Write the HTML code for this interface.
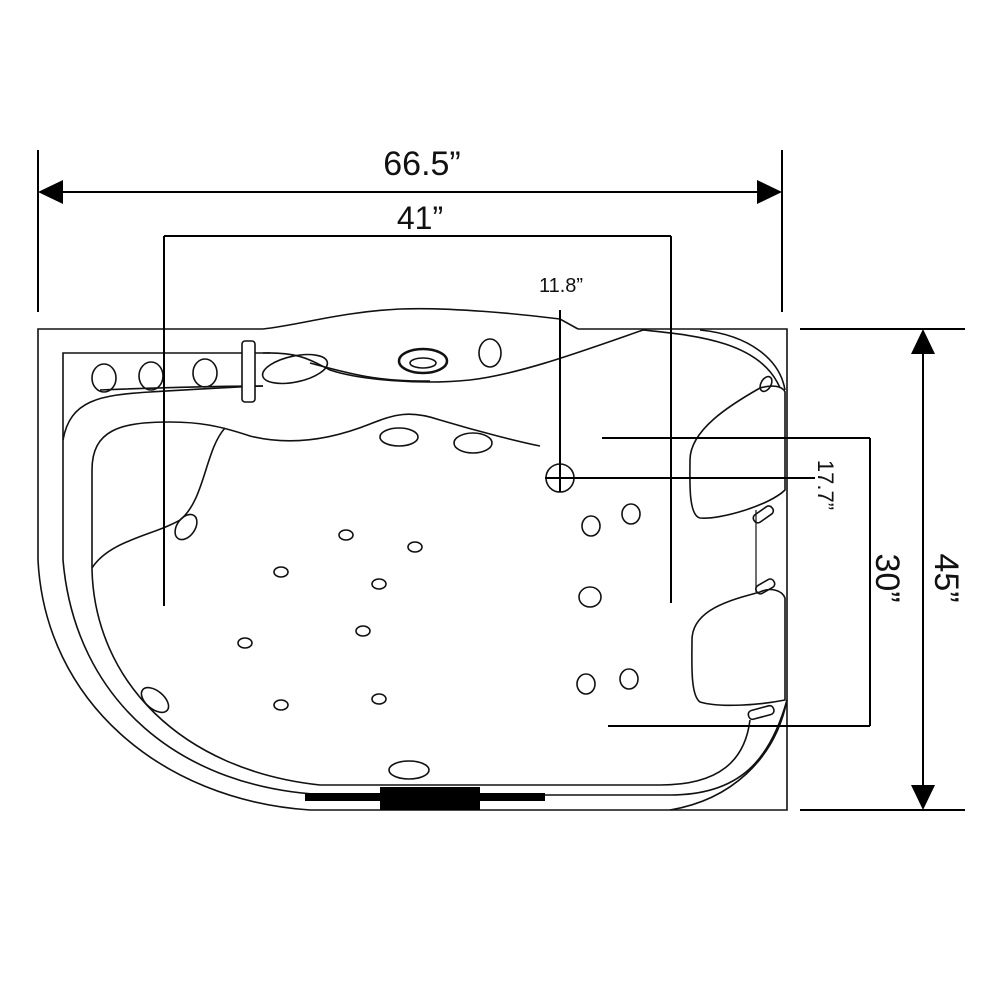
<!DOCTYPE html>
<html><head><meta charset="utf-8"><style>
html,body{margin:0;padding:0;background:#fff;}
svg{display:block;}
text{font-family:"Liberation Sans",sans-serif;fill:#111;}
</style></head><body>
<svg width="1000" height="1000" viewBox="0 0 1000 1000" xmlns="http://www.w3.org/2000/svg">
<rect width="1000" height="1000" fill="#fff"/>
<g fill="none" stroke="#111" stroke-width="1.6">
<!-- outer tub outline -->
<path d="M263,329 L38,329 L38,560 C45,700 160,800 310,810 L787,810 L787,329 L578,329"/>
<path d="M263,329 C300,325 340,312 400,309 C450,307 520,314 560,319 L578,329"/>
<!-- console -->
<path d="M63,420 L63,353 L270,353"/>
<path d="M263,353 C300,352 310,360 330,370 C360,380 420,385 470,380 C520,374 580,352 643,330"/>
<path d="M100,390 C150,388 220,386 263,386"/>
<path d="M310,363 C350,374 380,382 430,381"/>
<!-- rim -->
<path d="M63,440 C70,400 100,395 150,392 C200,389 230,387 263,386"/>
<path d="M63,420 L63,560 C75,700 180,790 330,795 L670,795 C740,795 770,760 787,700"/>
<path d="M670,810 C730,800 775,760 787,700"/>
<path d="M643,330 C690,335 760,340 780,388"/>
<path d="M700,330 C750,335 780,360 785,390"/>
<!-- basin -->
<path d="M92,570 L92,470 C92,430 120,422 170,422 C200,422 220,426 250,436 C290,446 330,440 370,424 C395,414 410,410 440,420 C480,432 520,442 540,446"/>
<path d="M92,570 C95,680 180,770 320,785 L660,785 C720,785 745,760 750,720"/>
<path d="M225,428 C205,450 205,500 180,520 C155,535 110,540 92,568"/>
<!-- headrests -->
<path d="M760,388 C770,385 782,385 785,392 L785,490 C770,505 720,520 700,518 C688,515 690,480 690,460 C690,430 730,405 760,388 Z"/>
<path d="M760,592 C770,587 782,590 785,598 L785,700 C760,705 720,708 700,702 C690,695 692,660 692,640 C692,610 730,600 760,592 Z"/>
<path d="M756,510 L756,592" stroke-width="1.2"/>
<rect x="752" y="510" width="22" height="9" rx="4" transform="rotate(-35 763 514)"/>
<rect x="755" y="582" width="20" height="9" rx="4" transform="rotate(-30 765 586)"/>
<rect x="748" y="708" width="26" height="9" rx="4" transform="rotate(-15 761 712)"/>
<ellipse cx="766" cy="384" rx="5" ry="8" transform="rotate(30 766 384)"/>
<!-- console details -->
<rect x="242" y="341" width="13" height="61" rx="3" fill="#fff"/>
<ellipse cx="295" cy="369" rx="33" ry="13" transform="rotate(-12 295 369)"/>
<ellipse cx="423" cy="361" rx="24" ry="12" stroke-width="2.5"/>
<ellipse cx="423" cy="363" rx="13" ry="5"/>
<ellipse cx="490" cy="353" rx="11" ry="14"/>
<ellipse cx="104" cy="378" rx="12" ry="14"/>
<ellipse cx="151" cy="376" rx="12" ry="14"/>
<ellipse cx="205" cy="373" rx="12" ry="14"/>
<!-- jets -->
<ellipse cx="399" cy="437" rx="19" ry="9"/>
<ellipse cx="473" cy="443" rx="19" ry="10"/>
<ellipse cx="186" cy="527" rx="9" ry="14" transform="rotate(35 186 527)"/>
<ellipse cx="155" cy="700" rx="9" ry="16" transform="rotate(-50 155 700)"/>
<ellipse cx="409" cy="770" rx="20" ry="9"/>
<ellipse cx="346" cy="535" rx="7" ry="5"/>
<ellipse cx="415" cy="547" rx="7" ry="5"/>
<ellipse cx="281" cy="572" rx="7" ry="5"/>
<ellipse cx="379" cy="584" rx="7" ry="5"/>
<ellipse cx="363" cy="631" rx="7" ry="5"/>
<ellipse cx="245" cy="643" rx="7" ry="5"/>
<ellipse cx="281" cy="705" rx="7" ry="5"/>
<ellipse cx="379" cy="699" rx="7" ry="5"/>
<ellipse cx="591" cy="526" rx="9" ry="10"/>
<ellipse cx="631" cy="514" rx="9" ry="10"/>
<ellipse cx="590" cy="597" rx="11" ry="10"/>
<ellipse cx="586" cy="684" rx="9" ry="10"/>
<ellipse cx="629" cy="679" rx="9" ry="10"/>
<circle cx="560" cy="478" r="14"/>
</g>
<!-- drain bar -->
<rect x="305" y="793" width="240" height="8" fill="#000"/>
<rect x="380" y="787" width="100" height="23" fill="#000"/>
<!-- dimension lines -->
<g stroke="#000" stroke-width="2" fill="none">
<line x1="38" y1="150" x2="38" y2="312"/>
<line x1="782" y1="150" x2="782" y2="312"/>
<line x1="60" y1="192" x2="758" y2="192"/>
<line x1="164" y1="236" x2="671" y2="236"/>
<line x1="164" y1="236" x2="164" y2="606"/>
<line x1="671" y1="236" x2="671" y2="603"/>
<line x1="560" y1="310" x2="560" y2="492"/>
<line x1="545" y1="478" x2="815" y2="478"/>
<line x1="602" y1="438" x2="870" y2="438"/>
<line x1="870" y1="438" x2="870" y2="726"/>
<line x1="608" y1="726" x2="870" y2="726"/>
<line x1="800" y1="329" x2="965" y2="329"/>
<line x1="800" y1="810" x2="965" y2="810"/>
<line x1="923" y1="350" x2="923" y2="790"/>
</g>
<polygon points="38,192 63,180 63,204" fill="#000"/>
<polygon points="782,192 757,180 757,204" fill="#000"/>
<polygon points="923,329 911,354 935,354" fill="#000"/>
<polygon points="923,810 911,785 935,785" fill="#000"/>
<text x="422" y="175" font-size="34" text-anchor="middle">66.5”</text>
<text x="420" y="229" font-size="32" text-anchor="middle">41”</text>
<text x="561" y="292" font-size="20" text-anchor="middle">11.8”</text>
<text transform="translate(818,485) rotate(90)" x="0" y="0" font-size="22" text-anchor="middle">17.7”</text>
<text transform="translate(876,578) rotate(90)" x="0" y="0" font-size="34" text-anchor="middle">30”</text>
<text transform="translate(935,578) rotate(90)" x="0" y="0" font-size="34" text-anchor="middle">45”</text>
</svg>
</body></html>
